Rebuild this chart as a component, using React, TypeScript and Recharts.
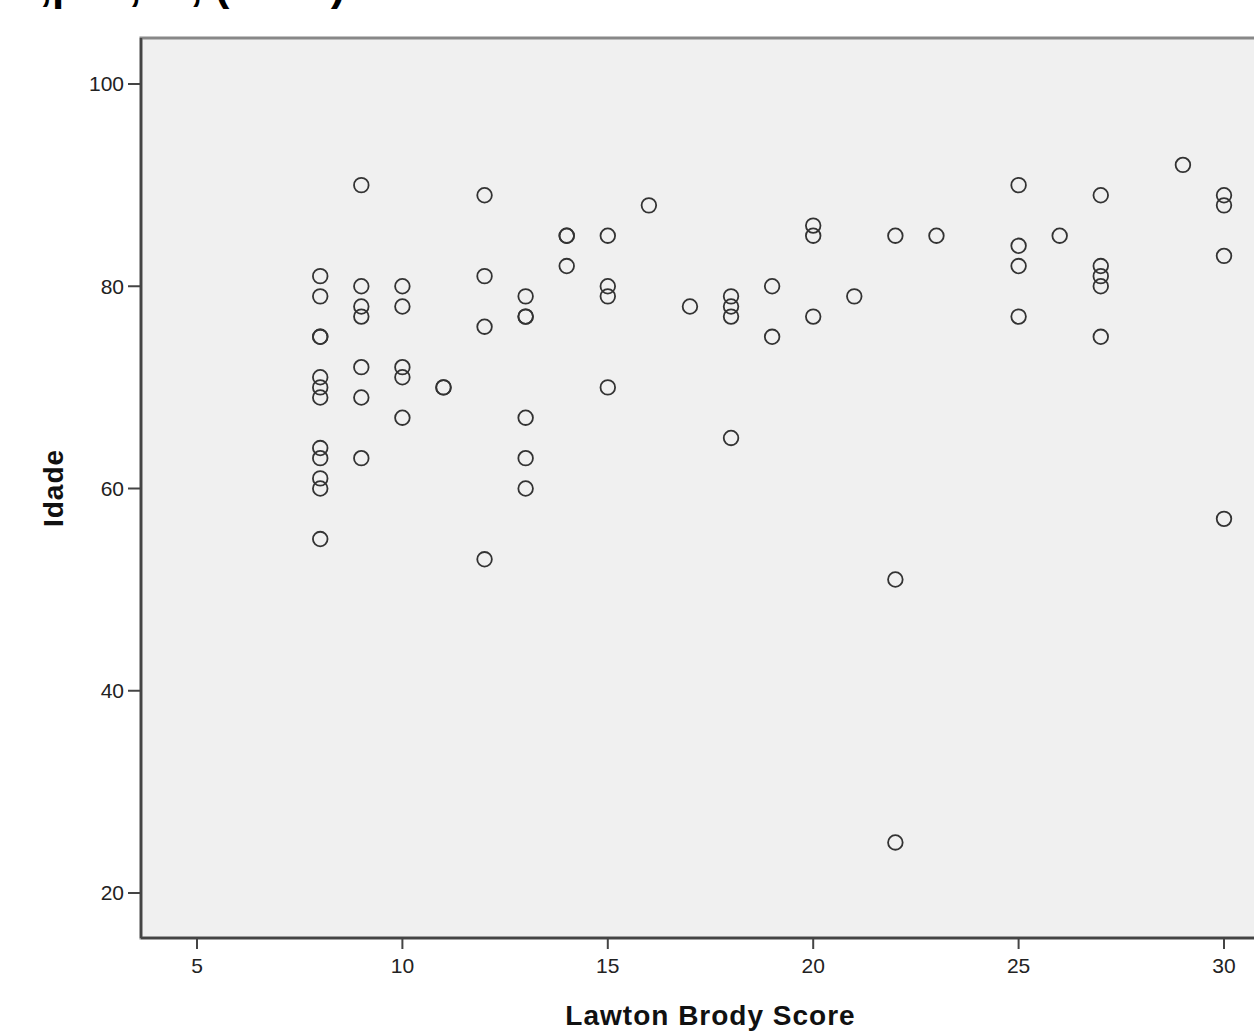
import { ScatterChart, Scatter, XAxis, YAxis, ReferenceArea } from "recharts";

// Lawton Brody score (x) and age (y), one entry per subject
const lawtonScore = [
  8, 8, 8, 8, 8, 8, 8, 8, 8, 8, 8, 8,
  9, 9, 9, 9, 9, 9, 9,
  10, 10, 10, 10, 10,
  11, 11,
  12, 12, 12, 12,
  13, 13, 13, 13, 13, 13,
  14, 14, 14,
  15, 15, 15, 15,
  16,
  17,
  18, 18, 18, 18,
  19, 19,
  20, 20, 20,
  21,
  22, 22, 22,
  23,
  25, 25, 25, 25,
  26,
  27, 27, 27, 27, 27,
  29,
  30, 30, 30, 30,
];

const idade = [
  81, 79, 75, 75, 71, 70, 69, 64, 63, 61, 60, 55,
  90, 80, 78, 77, 72, 69, 63,
  80, 78, 72, 71, 67,
  70, 70,
  89, 81, 76, 53,
  79, 77, 77, 67, 63, 60,
  85, 85, 82,
  85, 80, 79, 70,
  88,
  78,
  79, 78, 77, 65,
  80, 75,
  86, 85, 77,
  79,
  85, 51, 25,
  85,
  90, 84, 82, 77,
  85,
  89, 82, 81, 80, 75,
  92,
  89, 88, 83, 57,
];

const xTicks = [5, 10, 15, 20, 25, 30];
const yTicks = [20, 40, 60, 80, 100];
const xDomain = [3.637, 31.363];
const yDomain = [15.55, 104.55];

const points = lawtonScore.map((x, i) => ({ x, y: idade[i] }));

const FONT = '"Liberation Sans", Arial, sans-serif';

const Ring = (props: any) => {
  const { cx, cy } = props;
  if (cx == null || cy == null) return null;
  return <circle cx={cx} cy={cy} r={7.3} fill="none" stroke="#333" strokeWidth={1.8} />;
};

export default function App() {
  return (
    <div
      style={{
        position: "absolute",
        left: 0,
        top: 0,
        width: 1254,
        height: 1032,
        overflow: "hidden",
        background: "#fff",
      }}
    >
      {/* title is cut off at the top of the picture, only descenders show */}
      <svg width={1254} height={20} style={{ position: "absolute", left: 0, top: 0 }}>
        <text x={52} y={0} textAnchor="end" fontFamily={FONT} fontWeight="bold" fontSize={44} fill="#000">
          rs=0,29,
        </text>
        <text x={52} y={0} fontFamily={FONT} fontWeight="bold" fontSize={44} fill="#000">
          {" p<0,01, (n=74)"}
        </text>
      </svg>
      <ScatterChart width={1290} height={1032} margin={{ top: 38, right: 10, bottom: 0, left: 0 }}>
        <ReferenceArea
          x1={xDomain[0]}
          x2={xDomain[1]}
          y1={yDomain[0]}
          y2={yDomain[1]}
          fill="#f0f0f0"
          fillOpacity={1}
          stroke="#888"
          strokeWidth={3}
          ifOverflow="visible"
        />
        <XAxis
          type="number"
          dataKey="x"
          domain={xDomain}
          ticks={xTicks}
          allowDataOverflow
          height={94}
          axisLine={{ stroke: "#444", strokeWidth: 2.5 }}
          tickLine={{ stroke: "#444", strokeWidth: 2 }}
          tickSize={11}
          tickMargin={9}
          tick={{ fill: "#222", fontSize: 21, fontFamily: FONT }}
          label={{
            content: (p: any) => {
              const vb = p.viewBox || {};
              return (
                <text
                  x={vb.x + vb.width / 2}
                  y={vb.y + 87}
                  textAnchor="middle"
                  fontFamily={FONT}
                  fontWeight="bold"
                  fontSize={28}
                  letterSpacing={1}
                  fill="#111"
                >
                  Lawton Brody Score
                </text>
              );
            },
          }}
        />
        <YAxis
          type="number"
          dataKey="y"
          domain={yDomain}
          ticks={yTicks}
          allowDataOverflow
          width={141}
          axisLine={{ stroke: "#444", strokeWidth: 2.5 }}
          tickLine={{ stroke: "#444", strokeWidth: 2 }}
          tickSize={13}
          tickMargin={4}
          tick={{ fill: "#222", fontSize: 21, fontFamily: FONT }}
          label={{
            content: (p: any) => {
              const vb = p.viewBox || {};
              const cx = 63;
              const cy = vb.y + vb.height / 2;
              return (
                <text
                  x={cx}
                  y={cy}
                  transform={`rotate(-90 ${cx} ${cy})`}
                  textAnchor="middle"
                  fontFamily={FONT}
                  fontWeight="bold"
                  fontSize={28}
                  letterSpacing={1}
                  fill="#111"
                >
                  Idade
                </text>
              );
            },
          }}
        />
        <Scatter data={points} shape={Ring} isAnimationActive={false} />
      </ScatterChart>
    </div>
  );
}
